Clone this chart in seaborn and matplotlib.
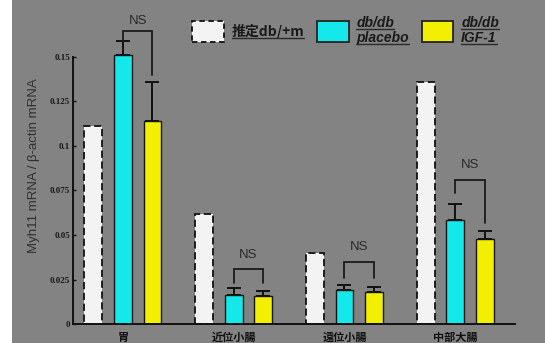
import numpy as np
import pandas as pd
import matplotlib
matplotlib.use("Agg")
import matplotlib.pyplot as plt
from matplotlib.patches import Patch, Rectangle
from matplotlib.lines import Line2D
import seaborn as sns

sites = ['胃', '近位小腸', '遠位小腸', '中部大腸']
groups = ['推定db/+m', 'db/db\nplacebo', 'db/db\nIGF-1']
wt_vals = [0.111, 0.062, 0.040, 0.136]
placebo_vals = [0.151, 0.0165, 0.019, 0.0585]
igf1_vals = [0.114, 0.016, 0.018, 0.048]
placebo_err = [0.008, 0.0035, 0.003, 0.009]
igf1_err = [0.022, 0.0025, 0.003, 0.0045]
# NS brackets: top, left leg end, right leg end, text height
ns_top = [0.1645, 0.031, 0.035, 0.081]
ns_left = [0.159, 0.023, 0.026, 0.0735]
ns_right = [0.140, 0.023, 0.026, 0.057]
ns_text = [0.170, 0.039, 0.043, 0.089]
yticks = [0, 0.025, 0.05, 0.075, 0.1, 0.125, 0.15]
ytick_labels = ['0', '0.025', '0.05', '0.075', '0.1', '0.125', '0.15']

bg = '#838383'
colors = ['#f3f3f3', '#14e8ea', '#f2f000']

df = pd.DataFrame({
    'site': sites * 3,
    'group': [g for g in groups for _ in sites],
    'value': wt_vals + placebo_vals + igf1_vals,
})

sns.set_theme(style='ticks')
plt.rcParams['font.family'] = ['Noto Sans CJK JP', 'DejaVu Sans']

fig = plt.figure(figsize=(5.45, 3.43), dpi=100, facecolor=bg)
fig.add_artist(Rectangle((0, 0), 12 / 545, 1, transform=fig.transFigure,
                         facecolor='white', edgecolor='none', zorder=-1))
ax = fig.add_axes([0.134, 0.055, 0.811, 0.925])
ax.set_facecolor(bg)

sns.barplot(data=df, x='site', y='value', hue='group', hue_order=groups,
            palette=colors, gap=0.4, errorbar=None, legend=False, ax=ax,
            edgecolor='#151515', linewidth=1.0, saturation=1)

for bar in ax.containers[0]:
    bar.set_linestyle((0, (4, 2)))
    bar.set_edgecolor('#111111')
    bar.set_linewidth(1.3)

def centers(cont):
    return [b.get_x() + b.get_width() / 2 for b in cont]

for cont, vals, err in [(ax.containers[1], placebo_vals, placebo_err),
                        (ax.containers[2], igf1_vals, igf1_err)]:
    xs = centers(cont)
    ax.errorbar(xs, vals, yerr=[np.zeros(len(err)), err], fmt='none',
                ecolor='#111111', elinewidth=1.4, capsize=5, capthick=1.4, zorder=1)

xl = centers(ax.containers[1])
xr = centers(ax.containers[2])
for i in range(len(sites)):
    ax.plot([xl[i], xl[i], xr[i], xr[i]], [ns_left[i], ns_top[i], ns_top[i], ns_right[i]],
            color='#1a1a1a', lw=1.3, solid_joinstyle='miter')
    ax.text((xl[i] + xr[i]) / 2, ns_text[i], 'NS', ha='center', va='center',
            fontsize=9.5, color='#2a2a2a', family='Liberation Sans')

ax.set_ylim(0, 0.178)
ax.set_xlim(-0.45, 3.54)
ax.set_yticks(yticks)
ax.set_yticklabels(ytick_labels, family='Liberation Serif', fontweight='bold',
                   fontsize=6.5, color='#1a1a1a')
ax.tick_params(axis='y', direction='in', length=2, width=1, color='#111111', pad=2)
ax.tick_params(axis='x', length=0, pad=5)
for lab in ax.get_xticklabels():
    lab.set_fontweight('bold')
    lab.set_fontsize(8)
    lab.set_color('#111111')
ax.set_xlabel('')
ax.set_ylabel('Myh11 mRNA / β-actin mRNA', family='Liberation Sans', fontsize=9.5,
              color='#303030', labelpad=7)
sns.despine(ax=ax)
ax.spines['left'].set_bounds(0, 0.15)
for s in ['left', 'bottom']:
    ax.spines[s].set_color('#111111')
    ax.spines[s].set_linewidth(1.4)

handles = [Patch(facecolor=colors[0], edgecolor='#111111', linestyle=(0, (3, 2)), linewidth=1.3),
           Patch(facecolor=colors[1], edgecolor='#222222', linewidth=1.3),
           Patch(facecolor=colors[2], edgecolor='#222222', linewidth=1.3)]
leg = ax.legend(handles, groups, ncol=3, loc='upper left',
                bbox_to_anchor=(192 / 545, 1 - 16 / 343), bbox_transform=fig.transFigure,
                frameon=False, handlelength=2.3, handleheight=2.0,
                columnspacing=0.9, handletextpad=0.55, borderpad=0, borderaxespad=0,
                prop={'size': 10, 'weight': 'bold'})
texts = leg.get_texts()
texts[0].set_family(['Noto Sans CJK JP', 'DejaVu Sans'])
for t in texts[1:]:
    t.set_family('Liberation Sans')
    t.set_style('italic')
    t.set_linespacing(1.05)
for t in texts:
    t.set_color('#1a1a1a')

# underline the legend labels, line by line
fig.canvas.draw()
renderer = fig.canvas.get_renderer()
for t in texts:
    bb = t.get_window_extent(renderer)
    lines = t.get_text().split('\n')
    lh = bb.height / len(lines)
    for k, line in enumerate(lines):
        tmp = fig.text(0, 0, line, fontproperties=t.get_fontproperties())
        w = tmp.get_window_extent(renderer).width
        tmp.remove()
        y = bb.y1 - (k + 1) * lh + 0.06 * lh
        fig.add_artist(Line2D([bb.x0 / fig.bbox.width, (bb.x0 + w) / fig.bbox.width],
                              [y / fig.bbox.height, y / fig.bbox.height],
                              transform=fig.transFigure, color='#2a2a2a', lw=1.0))

fig.savefig('out.png', dpi=100, facecolor=bg)
